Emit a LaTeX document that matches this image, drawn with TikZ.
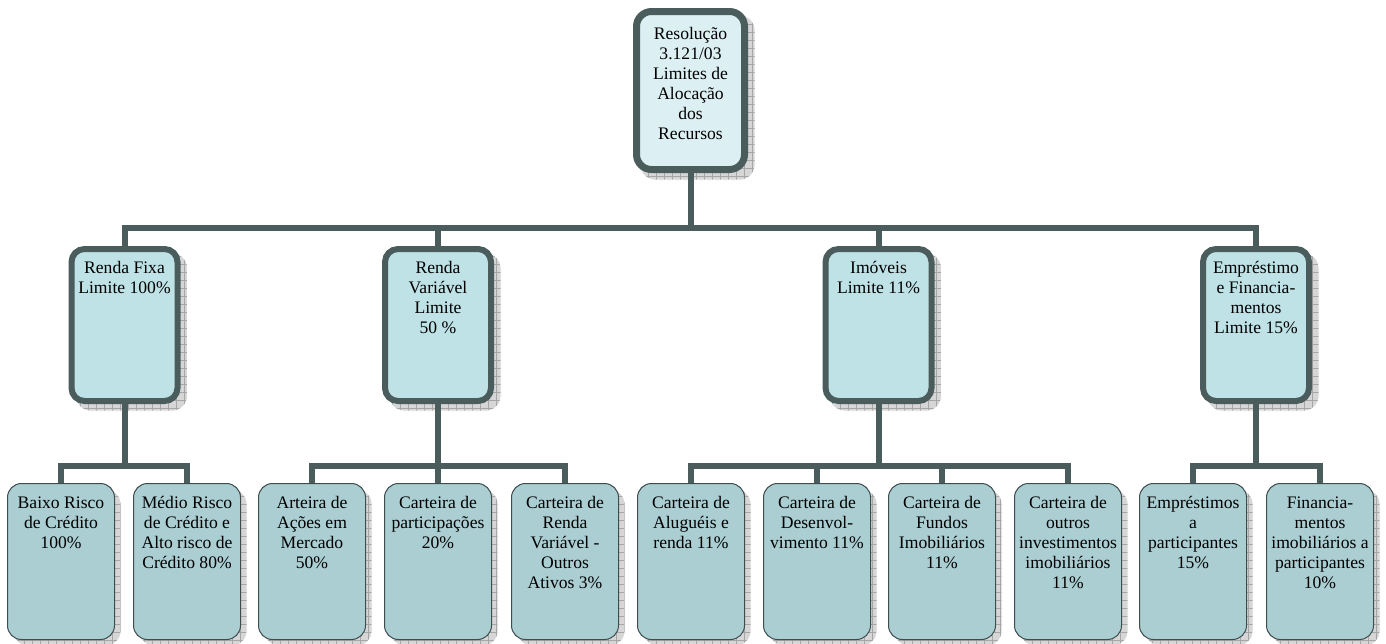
\documentclass[tikz,border=0pt]{standalone}
\usepackage{fontspec}
\setmainfont{Liberation Serif}
\usetikzlibrary{backgrounds}
\definecolor{bord}{HTML}{4B5C5D}
\definecolor{bordleaf}{HTML}{3E4C4D}
\definecolor{fillA}{HTML}{DCEFF2}
\definecolor{fillB}{HTML}{BEE2E6}
\definecolor{fillC}{HTML}{AACED2}
\definecolor{shad}{HTML}{D6D6D6}
\definecolor{shadline}{HTML}{A6A6A6}
\newcommand\boxtxt[4]{\begin{minipage}[t][#2][t]{#1}\fontsize{17.6}{20}\selectfont\centering\vspace*{#3}\rule{0pt}{15pt}#4\end{minipage}}
\newcommand\shadowof[2]{\path[shadowbox] ([shift={(#2,-#2)}]#1.south west) rectangle ([shift={(#2,-#2)}]#1.north east);}
\begin{document}
\begin{tikzpicture}[x=1pt,y=1pt,
  conn/.style={draw=bord, line width=6pt},
  topbox/.style={draw=bord, line width=7pt, fill=fillA, rounded corners=15pt, inner sep=0pt},
  midbox/.style={draw=bord, line width=6pt, fill=fillB, rounded corners=13pt, inner sep=0pt},
  leafbox/.style={draw=bordleaf, line width=1pt, fill=fillC, rounded corners=14pt, inner sep=0pt},
  shadowbox/.style={fill=shad, draw=white, line width=0.8pt, rounded corners=15pt,
    path picture={\draw[shadline, line width=0.4pt, step=8pt] (path picture bounding box.south west) grid (path picture bounding box.north east);}}
]
\useasboundingbox (0,0) rectangle (1386,-643);
% root
\node[topbox] (r) at (690.5,-90.5) {\boxtxt{108pt}{158pt}{12.5pt}{Resolução\\3.121/03\\Limites de\\Alocação\\dos\\Recursos}};
% level 2
\node[midbox] (rf) at (124.5,-325) {\boxtxt{106pt}{152pt}{9pt}{Renda Fixa\\Limite 100\%}};
\node[midbox] (rv) at (438,-325) {\boxtxt{106pt}{152pt}{9pt}{Renda\\Variável\\Limite\\50 \%}};
\node[midbox] (im) at (878.5,-325) {\boxtxt{106pt}{152pt}{9pt}{Imóveis\\Limite 11\%}};
\node[midbox] (em) at (1256,-325) {\boxtxt{106pt}{152pt}{9pt}{Empréstimo\\e Financia-\\mentos\\Limite 15\%}};
% level 3
\node[leafbox] (b1) at (61,-561.5) {\boxtxt{107pt}{156pt}{9.5pt}{Baixo Risco\\de Crédito\\100\%}};
\node[leafbox] (b2) at (187,-561.5) {\boxtxt{107pt}{156pt}{9.5pt}{Médio Risco\\de Crédito e\\Alto risco de\\Crédito 80\%}};
\node[leafbox] (b3) at (312,-561.5) {\boxtxt{107pt}{156pt}{9.5pt}{Arteira de\\Ações em\\Mercado\\50\%}};
\node[leafbox] (b4) at (438,-561.5) {\boxtxt{107pt}{156pt}{9.5pt}{Carteira de\\participações\\20\%}};
\node[leafbox] (b5) at (565,-561.5) {\boxtxt{107pt}{156pt}{9.5pt}{Carteira de\\Renda\\Variável -\\Outros\\Ativos 3\%}};
\node[leafbox] (b6) at (691,-561.5) {\boxtxt{107pt}{156pt}{9.5pt}{Carteira de\\Aluguéis e\\renda 11\%}};
\node[leafbox] (b7) at (817,-561.5) {\boxtxt{107pt}{156pt}{9.5pt}{Carteira de\\Desenvol-\\vimento 11\%}};
\node[leafbox] (b8) at (942,-561.5) {\boxtxt{107pt}{156pt}{9.5pt}{Carteira de\\Fundos\\Imobiliários\\11\%}};
\node[leafbox] (b9) at (1068,-561.5) {\boxtxt{107pt}{156pt}{9.5pt}{Carteira de\\outros\\investimentos\\imobiliários\\11\%}};
\node[leafbox] (b10) at (1193,-561.5) {\boxtxt{107pt}{156pt}{9.5pt}{Empréstimos\\a\\participantes\\15\%}};
\node[leafbox] (b11) at (1320,-561.5) {\boxtxt{107pt}{156pt}{9.5pt}{Financia-\\mentos\\imobiliários a\\participantes\\10\%}};
% buses
\coordinate (bus0) at (690.5,-228);
\coordinate (bus1) at (124.5,-466);
\coordinate (bus2) at (438,-466);
\coordinate (bus3) at (878.5,-466);
\coordinate (bus4) at (1256,-466);
\begin{scope}[on background layer]
  \shadowof{r}{7pt}
  \foreach \n in {rf,rv,im,em} {\shadowof{\n}{7pt}}
  \foreach \n in {b1,b2,b3,b4,b5,b6,b7,b8,b9,b10,b11} {\shadowof{\n}{6pt}}
  \draw[conn] (r.south) -- (bus0);
  \foreach \n in {rf,rv,im,em} {\draw[conn] (\n.north) |- (bus0);}
  \draw[conn] (rf.south) -- (bus1);
  \foreach \n in {b1,b2} {\draw[conn] (\n.north) |- (bus1);}
  \draw[conn] (rv.south) -- (bus2);
  \foreach \n in {b3,b4,b5} {\draw[conn] (\n.north) |- (bus2);}
  \draw[conn] (im.south) -- (bus3);
  \foreach \n in {b6,b7,b8,b9} {\draw[conn] (\n.north) |- (bus3);}
  \draw[conn] (em.south) -- (bus4);
  \foreach \n in {b10,b11} {\draw[conn] (\n.north) |- (bus4);}
\end{scope}
\end{tikzpicture}
\end{document}
